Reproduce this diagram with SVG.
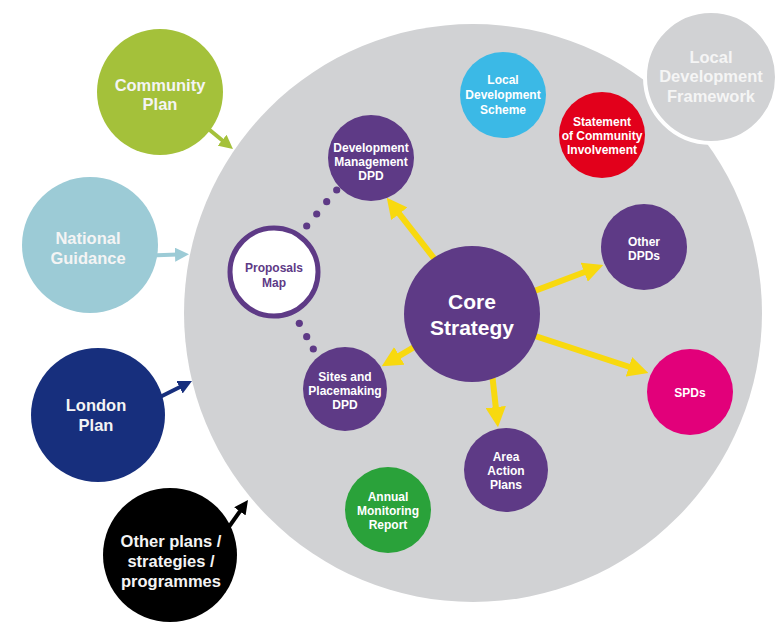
<svg xmlns="http://www.w3.org/2000/svg" width="776" height="624" viewBox="0 0 776 624">
<style>
text{font-family:"Liberation Sans",Arial,sans-serif;font-weight:bold;text-anchor:middle}
.big{font-size:16.5px;fill:#f4f4f4}
.sm{font-size:12px;fill:#ffffff}
.core{font-size:21px;fill:#ffffff}
.ldf{font-size:16.5px;fill:#f5f5f5}
.pm{font-size:12px;fill:#5e3a86}
.purple{fill:#5e3a86}
.y{stroke:#f8d90f;stroke-width:6;fill:none;marker-end:url(#ay)}
.dot{fill:#5e3a86}
</style>
<defs>
<marker id="ay" viewBox="0 0 10 10" refX="2" refY="5" markerWidth="3.4" markerHeight="3.4" orient="auto" markerUnits="strokeWidth"><path d="M0,0 L10,5 L0,10 z" fill="#f8d90f"/></marker>
<marker id="ag" viewBox="0 0 10 10" refX="2" refY="5" markerWidth="3.5" markerHeight="3.5" orient="auto" markerUnits="strokeWidth"><path d="M0,0 L10,5 L0,10 z" fill="#a4c13a"/></marker>
<marker id="ab" viewBox="0 0 10 10" refX="2" refY="5" markerWidth="3.5" markerHeight="3.5" orient="auto" markerUnits="strokeWidth"><path d="M0,0 L10,5 L0,10 z" fill="#9ccbd6"/></marker>
<marker id="an" viewBox="0 0 10 10" refX="2" refY="5" markerWidth="3.5" markerHeight="3.5" orient="auto" markerUnits="strokeWidth"><path d="M0,0 L10,5 L0,10 z" fill="#172f7d"/></marker>
<marker id="ak" viewBox="0 0 10 10" refX="2" refY="5" markerWidth="3.5" markerHeight="3.5" orient="auto" markerUnits="strokeWidth"><path d="M0,0 L10,5 L0,10 z" fill="#000000"/></marker>
</defs>
<rect width="776" height="624" fill="#ffffff"/>
<g id="ldf-area">
<circle cx="473" cy="313" r="289" fill="#d1d2d4"/>
</g>
<g id="ldf">
<circle cx="711" cy="77" r="66" fill="#d1d2d4" stroke="#ffffff" stroke-width="4"/>
<text class="ldf" x="711" y="63">Local</text>
<text class="ldf" x="711" y="82">Development</text>
<text class="ldf" x="711" y="102">Framework</text>
</g>
<g id="connectors">
<line class="y" x1="454.7" y1="284.8" x2="396.8" y2="210.6"/>
<line class="y" x1="450.9" y1="325.4" x2="395.8" y2="357.9"/>
<line class="y" x1="509" y1="300.6" x2="588" y2="270.7"/>
<line class="y" x1="509.5" y1="327.7" x2="632.8" y2="368"/>
<line class="y" x1="489.7" y1="352" x2="496.2" y2="411.1"/>
<line x1="200" y1="122" x2="224.3" y2="142" stroke="#a4c13a" stroke-width="4" marker-end="url(#ag)"/>
<line x1="150" y1="255.5" x2="177.8" y2="254.6" stroke="#9ccbd6" stroke-width="4" marker-end="url(#ab)"/>
<line x1="158" y1="398" x2="182" y2="386" stroke="#172f7d" stroke-width="4" marker-end="url(#an)"/>
<line x1="226" y1="531" x2="241.5" y2="509.1" stroke="#000000" stroke-width="4" marker-end="url(#ak)"/>
<circle class="dot" cx="336.7" cy="190" r="3.6"/>
<circle class="dot" cx="326.7" cy="201.7" r="3.6"/>
<circle class="dot" cx="316.7" cy="214" r="3.6"/>
<circle class="dot" cx="306.7" cy="226" r="3.6"/>
<circle class="dot" cx="299.3" cy="323.3" r="3.6"/>
<circle class="dot" cx="306.7" cy="336.7" r="3.6"/>
<circle class="dot" cx="313.3" cy="349" r="3.6"/>
</g>
<g id="community-plan">
<circle cx="160" cy="92" r="63" fill="#a4c13a"/>
<text class="big" x="160" y="91">Community</text>
<text class="big" x="160" y="110">Plan</text>
</g>
<g id="national-guidance">
<circle cx="90" cy="245" r="68" fill="#9ccbd6"/>
<text class="big" x="88" y="244">National</text>
<text class="big" x="88" y="264">Guidance</text>
</g>
<g id="london-plan">
<circle cx="98" cy="415" r="67" fill="#172f7d"/>
<text class="big" x="96" y="411">London</text>
<text class="big" x="96" y="431">Plan</text>
</g>
<g id="other-plans">
<circle cx="170" cy="555" r="67" fill="#000000"/>
<text class="big" x="171" y="547">Other plans /</text>
<text class="big" x="171" y="567">strategies /</text>
<text class="big" x="171" y="587">programmes</text>
</g>
<g id="lds">
<circle cx="503" cy="95" r="43" fill="#3bb9e6"/>
<text class="sm" x="503" y="84">Local</text>
<text class="sm" x="503" y="99">Development</text>
<text class="sm" x="503" y="114">Scheme</text>
</g>
<g id="sci">
<circle cx="602" cy="135" r="43" fill="#e2001b"/>
<text class="sm" x="602" y="126">Statement</text>
<text class="sm" x="602" y="140">of Community</text>
<text class="sm" x="602" y="154">Involvement</text>
</g>
<g id="dm-dpd">
<circle class="purple" cx="371" cy="158" r="43"/>
<text class="sm" x="371" y="152">Development</text>
<text class="sm" x="371" y="166">Management</text>
<text class="sm" x="371" y="180">DPD</text>
</g>
<g id="proposals-map">
<circle cx="274" cy="272" r="44" fill="#ffffff" stroke="#5e3a86" stroke-width="5"/>
<text class="pm" x="274" y="272">Proposals</text>
<text class="pm" x="274" y="287">Map</text>
</g>
<g id="sites-dpd">
<circle class="purple" cx="345" cy="389" r="42"/>
<text class="sm" x="345" y="381">Sites and</text>
<text class="sm" x="345" y="395">Placemaking</text>
<text class="sm" x="345" y="409">DPD</text>
</g>
<g id="core-strategy">
<circle class="purple" cx="472" cy="314" r="68"/>
<text class="core" x="472" y="309">Core</text>
<text class="core" x="472" y="335">Strategy</text>
</g>
<g id="other-dpds">
<circle class="purple" cx="644" cy="247" r="43"/>
<text class="sm" x="644" y="246">Other</text>
<text class="sm" x="644" y="260">DPDs</text>
</g>
<g id="spds">
<circle cx="690" cy="392" r="43" fill="#e2007a"/>
<text class="sm" x="690" y="397">SPDs</text>
</g>
<g id="aap">
<circle class="purple" cx="506" cy="470" r="42"/>
<text class="sm" x="506" y="461">Area</text>
<text class="sm" x="506" y="475">Action</text>
<text class="sm" x="506" y="489">Plans</text>
</g>
<g id="amr">
<circle cx="388" cy="510" r="43" fill="#2aa23a"/>
<text class="sm" x="388" y="501">Annual</text>
<text class="sm" x="388" y="515">Monitoring</text>
<text class="sm" x="388" y="529">Report</text>
</g>
</svg>
